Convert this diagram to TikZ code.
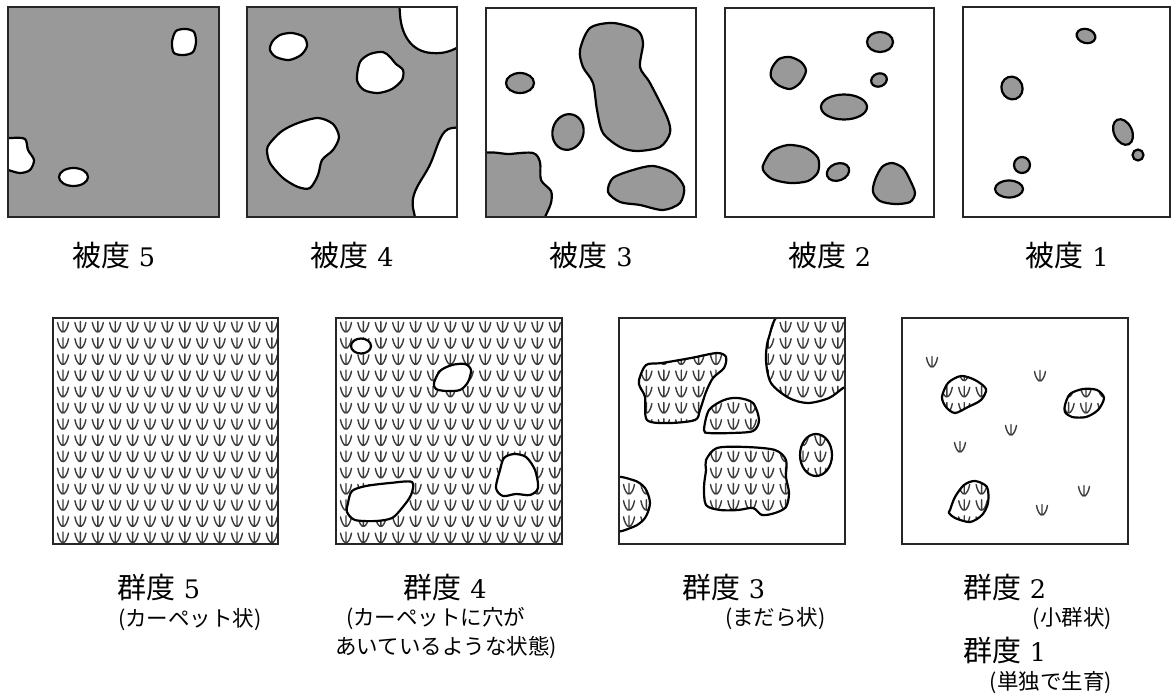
\documentclass[tikz,border=0pt]{standalone}
\usepackage{fontspec}
\newfontfamily\jp{Noto Sans CJK JP}
\newfontfamily\numfont{DejaVu Serif}[Scale=0.88]
\definecolor{covgray}{RGB}{153,153,153}
\definecolor{tuftgray}{RGB}{60,60,60}
\tikzset{
  tuft/.pic={
    \draw[tuftgray, line width=1.4pt, line cap=round]
      (-5.5,-4.5) .. controls (-4.5,1) and (-2.5,4) .. (-0.8,5)
      (0,-5.5) -- (0,5)
      (5.5,-4.5) .. controls (4.5,1) and (2.5,4) .. (0.8,5);
  }
}
% full 13 x 14 grid of tufts inside one lower square
\newcommand\tuftgrid{%
  \foreach \i in {0,...,12}{\foreach \j in {0,...,13}{\pic at ({10+17.4*\i},{9+16.2*\j}) {tuft};}}}
% patches of gundo 3
\newcommand\patchesG{%
  plot[smooth cycle] coordinates {(639,380) (646,365) (662,363) (691,358) (717,353) (726,357) (724,368) (713,378) (706,392) (700,410) (695,420) (669,423) (647,420) (645,397) (640,387)}
  plot[smooth cycle] coordinates {(784,312) (769,337) (766,360) (771,383) (789,398) (808,403) (829,398) (843,388) (855,380) (855,310)}
  plot[smooth cycle] coordinates {(704,430) (709,410) (724,400) (738,398) (753,403) (759,420) (753,431) (731,433) (709,433)}
  (816,455) ellipse [x radius=16, y radius=21]
  plot[smooth cycle] coordinates {(706,460) (717,448) (746,447) (775,450) (786,460) (786,477) (789,493) (786,507) (775,513) (762,515) (753,508) (738,510) (720,510) (706,505) (704,487) (706,470)}
  plot[smooth cycle] coordinates {(612,480) (633,480) (645,488) (650,503) (645,518) (633,527) (612,529)}}
% patches of gundo 2
\newcommand\patchesS{%
  plot[smooth cycle] coordinates {(942,397) (948,383) (961,376) (975,380) (986,389) (981,400) (968,407) (955,413) (946,407)}
  plot[smooth cycle] coordinates {(1065,405) (1070,394) (1083,389) (1097,390) (1104,398) (1098,410) (1086,417) (1072,417) (1065,412)}
  plot[smooth cycle] coordinates {(950,510) (955,497) (964,485) (975,481) (987,487) (988,503) (982,515) (970,522) (955,518) (949,513)}}

\begin{document}
\begin{tikzpicture}[x=1pt, y=-1pt,
  plotframe/.style={draw=black!85, line width=2.4pt},
  blob/.style={draw=black, line width=2.2pt, fill=covgray},
  hole/.style={draw=black, line width=2.2pt, fill=white},
  patch/.style={draw=black, line width=2.2pt},
  toplbl/.style={font=\fontsize{29}{32}\selectfont, inner sep=0pt},
  sublbl/.style={font=\jp\fontsize{21.5}{24}\selectfont, inner sep=0pt}
]
\useasboundingbox[fill=white] (0,0) rectangle (1171,694);

% ---- hido 5
\begin{scope}
  \clip (8,7) rectangle (219,217);
  \fill[covgray] (8,7) rectangle (219,217);
  \draw[hole] plot[smooth cycle] coordinates {(176,31) (186,29) (194,32) (196,42) (193,52) (184,55) (174,53) (172,42)};
  \draw[hole] plot[smooth cycle] coordinates {(0,141) (12,138) (25,139) (28,150) (34,160) (30,170) (20,173) (8,170) (0,168)};
  \draw[hole] (73.5,177) ellipse [x radius=14.5, y radius=9];
\end{scope}
\draw[plotframe] (8,7) rectangle (219,217);

% ---- hido 4
\begin{scope}
  \clip (247,7) rectangle (457,217);
  \fill[covgray] (247,7) rectangle (457,217);
  \draw[hole] plot[smooth cycle] coordinates {(272,42) (280,35) (292,33) (304,37) (307,46) (301,55) (289,60) (276,57) (270,50)};
  \draw[hole] (399,0) -- (400,14) .. controls (401,34) and (411,52) .. (432,53)
    .. controls (444,54) and (452,51) .. (462,45) -- (462,0) -- cycle;
  \draw[hole] plot[smooth cycle] coordinates {(360,62) (370,54) (383,52) (390,57) (396,64) (403,70) (402,80) (392,89) (378,93) (364,90) (357,80)};
  \draw[hole] plot[smooth cycle] coordinates {(270,143) (282,131) (298,123) (318,118) (333,124) (339,137) (333,150) (322,160) (318,175) (310,188) (298,187) (283,178) (270,163) (267,150)};
  \draw[hole] (462,127) -- (452,128) .. controls (441,129) and (438,145) .. (432,160)
    .. controls (425,178) and (410,190) .. (413,208) -- (416,222) -- (462,222) -- cycle;
\end{scope}
\draw[plotframe] (247,7) rectangle (457,217);

% ---- hido 3
\begin{scope}
  \clip (486,8) rectangle (696,217);
  \draw[blob] (520,83) ellipse [x radius=14, y radius=10];
  \draw[blob] plot[smooth cycle] coordinates {(580,50) (590,28) (613,23) (637,30) (643,43) (640,67) (650,83) (667,117) (670,133) (660,147) (637,151) (620,147) (603,133) (597,110) (593,83) (583,67)};
  \draw[blob, rotate around={-15:(568,132)}] (568,132) ellipse [x radius=15.5, y radius=18];
  \draw[blob] plot[smooth cycle] coordinates {(478,158) (510,154) (533,153) (540,162) (541,180) (551,191) (551,203) (545,217) (540,228) (478,228)};
  \draw[blob] plot[smooth cycle] coordinates {(608,192) (613,178) (633,170) (653,166) (673,173) (684,187) (680,203) (663,210) (640,205) (620,202)};
\end{scope}
\draw[plotframe] (486,8) rectangle (696,217);

% ---- hido 2
\draw[blob] plot[smooth cycle] coordinates {(772,68) (779,59) (790,57) (801,62) (806,71) (800,83) (790,89) (778,85) (771,77)};
\draw[blob] (880,42) ellipse [x radius=13, y radius=10];
\draw[blob, rotate around={20:(879,80)}] (879,80) ellipse [x radius=8, y radius=6.5];
\draw[blob] (844,107) ellipse [x radius=23, y radius=12.5];
\draw[blob] plot[smooth cycle] coordinates {(764,163) (772,151) (788,145) (806,148) (818,158) (818,172) (808,181) (790,183) (772,179) (763,170)};
\draw[blob, rotate around={20:(838,172)}] (838,172) ellipse [x radius=11.5, y radius=8.5];
\draw[blob] plot[smooth cycle] coordinates {(875,180) (882,167) (892,163) (903,168) (910,180) (915,193) (910,202) (895,204) (880,201) (873,192)};
\draw[plotframe] (725,8) rectangle (934,217);

% ---- hido 1
\draw[blob, rotate around={-15:(1086,36)}] (1086,36) ellipse [x radius=9.5, y radius=7];
\draw[blob, rotate around={20:(1012,88)}] (1012,88) ellipse [x radius=10.5, y radius=11.5];
\draw[blob, rotate around={25:(1123,132)}] (1123,132) ellipse [x radius=9, y radius=13.5];
\draw[blob] (1138,155) circle (5.5);
\draw[blob] (1022,165) circle (8);
\draw[blob] (1009,189) ellipse [x radius=14, y radius=8.5];
\draw[plotframe] (963,7) rectangle (1169.8,217);

% labels, upper row
\node[toplbl] (hido5) at (113.5,256) {{\jp 被度} {\numfont 5}};
\node[toplbl] (hido4) at (352,256) {{\jp 被度} {\numfont 4}};
\node[toplbl] (hido3) at (591,256) {{\jp 被度} {\numfont 3}};
\node[toplbl] (hido2) at (829.5,256) {{\jp 被度} {\numfont 2}};
\node[toplbl] (hido1) at (1067,256) {{\jp 被度} {\numfont 1}};

% ---- gundo 5
\begin{scope}[shift={(53,318)}]
  \tuftgrid
\end{scope}
\draw[plotframe] (53,318) rectangle (278,544);

% ---- gundo 4
\begin{scope}[shift={(336,318)}]
  \tuftgrid
\end{scope}
\draw[hole] (361,346) ellipse [x radius=10, y radius=7.5];
\draw[hole] plot[smooth cycle] coordinates {(434,383) (440,371) (452,365) (465,364) (471,370) (468,382) (460,390) (446,391) (436,389)};
\draw[hole] plot[smooth cycle] coordinates {(496,488) (500,470) (504,458) (514,454) (526,457) (535,470) (538,488) (530,495) (516,494) (503,496)};
\draw[hole] plot[smooth cycle] coordinates {(348,503) (352,491) (366,486) (390,483) (412,482) (411,495) (402,508) (392,518) (376,521) (355,520) (347,512)};
\draw[plotframe] (336,318) rectangle (562,544);

% ---- gundo 3
\begin{scope}
  \clip (619,318) rectangle (845,544);
  \begin{scope}
    \clip \patchesG;
    \begin{scope}[shift={(619,318)}]
      \tuftgrid
    \end{scope}
  \end{scope}
  \draw[patch] \patchesG;
\end{scope}
\draw[plotframe] (619,318) rectangle (845,544);

% ---- gundo 2 / 1
\begin{scope}
  \clip \patchesS;
  \begin{scope}[shift={(902,318)}]
    \tuftgrid
  \end{scope}
\end{scope}
\draw[patch] \patchesS;
\foreach \p in {(932,362),(1040,376),(1011,430),(960,447),(1084,491),(1042,510)}
  \pic at \p {tuft};
\draw[plotframe] (902,318) rectangle (1128,544);

% labels, lower row
\node[toplbl, anchor=west] (gun5) at (117,587) {{\jp 群度} {\numfont 5}};
\node[sublbl, anchor=west] (gun5s) at (118,620) {(カーペット状)};
\node[toplbl] (gun4) at (445,587) {{\jp 群度} {\numfont 4}};
\node[sublbl, anchor=west] (gun4s) at (346,619) {(カーペットに穴が};
\node[sublbl, anchor=west] (gun4t) at (335,648) {あいているような状態)};
\node[toplbl, anchor=west] (gun3) at (682,587) {{\jp 群度} {\numfont 3}};
\node[sublbl, anchor=west] (gun3s) at (725,619) {(まだら状)};
\node[toplbl, anchor=west] (gun2) at (963,587) {{\jp 群度} {\numfont 2}};
\node[sublbl, anchor=east] (gun2s) at (1112,619) {(小群状)};
\node[toplbl, anchor=west] (gun1) at (963,650) {{\jp 群度} {\numfont 1}};
\node[sublbl, anchor=east] (gun1s) at (1112,683) {(単独で生育)};
\end{tikzpicture}
\end{document}
